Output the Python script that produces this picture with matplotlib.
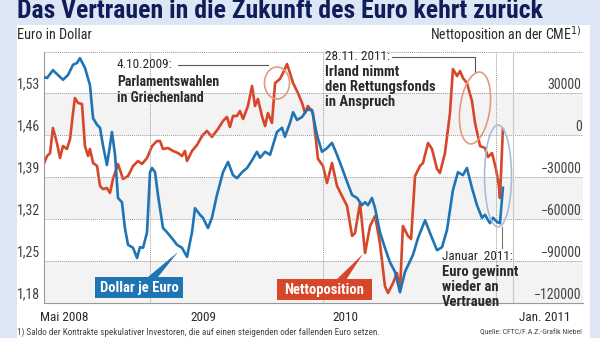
#! /usr/bin/env python3

"""
Euro in Dollar vs. Nettoposition an der CME (2008 - Jan. 2011)
Line chart with two y axes, annotations in the F.A.Z. style.
"""

import matplotlib
matplotlib.use("Agg")
import matplotlib.pyplot as plt
from matplotlib.patches import Ellipse, Polygon, Rectangle
from matplotlib.lines import Line2D

# narrow fonts first, if they are there
plt.rcParams['font.family'] = ['Roboto Condensed', 'Liberation Sans Narrow', 'Liberation Sans', 'DejaVu Sans']

# ---- data (dates as decimal years) ----

# Dollar je Euro
usd_dates = [2008.382, 2008.405, 2008.439, 2008.468, 2008.497, 2008.526, 2008.555, 2008.578,
             2008.595, 2008.624, 2008.653, 2008.671, 2008.694, 2008.711, 2008.728, 2008.751,
             2008.769, 2008.780, 2008.798, 2008.815, 2008.838, 2008.855, 2008.873, 2008.902,
             2008.925, 2008.942, 2008.960, 2008.983, 2009.000, 2009.012, 2009.029, 2009.046,
             2009.075, 2009.098, 2009.127, 2009.156, 2009.185, 2009.214, 2009.243, 2009.260,
             2009.289, 2009.306, 2009.335, 2009.358, 2009.387, 2009.422, 2009.451, 2009.480,
             2009.503, 2009.532, 2009.561, 2009.590, 2009.618, 2009.636, 2009.665, 2009.694,
             2009.711, 2009.734, 2009.763, 2009.780, 2009.809, 2009.827, 2009.850, 2009.879,
             2009.908, 2009.936, 2009.965, 2009.994, 2010.023, 2010.052, 2010.081, 2010.110,
             2010.139, 2010.168, 2010.197, 2010.225, 2010.243, 2010.260, 2010.283, 2010.301,
             2010.329, 2010.358, 2010.387, 2010.416, 2010.445, 2010.474, 2010.520, 2010.549,
             2010.590, 2010.618, 2010.659, 2010.688, 2010.717, 2010.751, 2010.780, 2010.809,
             2010.832, 2010.861, 2010.890, 2010.919, 2010.936, 2010.965, 2010.983, 2011.006,
             2011.023, 2011.040]
usd_values = [1.557, 1.555, 1.568, 1.560, 1.552, 1.560, 1.577, 1.580,
              1.588, 1.572, 1.543, 1.488, 1.477, 1.472, 1.443, 1.410,
              1.443, 1.465, 1.427, 1.355, 1.348, 1.305, 1.277, 1.272,
              1.255, 1.273, 1.272, 1.298, 1.398, 1.405, 1.398, 1.360,
              1.305, 1.298, 1.288, 1.277, 1.272, 1.257, 1.298, 1.338,
              1.327, 1.322, 1.305, 1.322, 1.360, 1.398, 1.415, 1.393,
              1.388, 1.398, 1.405, 1.418, 1.432, 1.422, 1.432, 1.427,
              1.443, 1.465, 1.472, 1.457, 1.480, 1.498, 1.485, 1.490,
              1.502, 1.502, 1.460, 1.432, 1.438, 1.447, 1.427, 1.405,
              1.382, 1.360, 1.355, 1.343, 1.348, 1.343, 1.355, 1.338,
              1.298, 1.272, 1.248, 1.232, 1.198, 1.232, 1.260, 1.288,
              1.318, 1.297, 1.268, 1.273, 1.302, 1.368, 1.398, 1.393,
              1.405, 1.372, 1.343, 1.322, 1.327, 1.313, 1.322, 1.315,
              1.313, 1.372]

# Nettoposition (contracts)
net_dates = [2008.382, 2008.405, 2008.422, 2008.439, 2008.462, 2008.480, 2008.497, 2008.520,
             2008.538, 2008.555, 2008.566, 2008.584, 2008.607, 2008.624, 2008.642, 2008.653,
             2008.671, 2008.694, 2008.711, 2008.728, 2008.751, 2008.769, 2008.786, 2008.815,
             2008.844, 2008.873, 2008.902, 2008.931, 2008.954, 2008.983, 2009.012, 2009.040,
             2009.058, 2009.075, 2009.104, 2009.133, 2009.162, 2009.185, 2009.202, 2009.214,
             2009.243, 2009.272, 2009.301, 2009.329, 2009.358, 2009.393, 2009.422, 2009.445,
             2009.462, 2009.480, 2009.503, 2009.520, 2009.538, 2009.566, 2009.590, 2009.607,
             2009.624, 2009.647, 2009.665, 2009.682, 2009.705, 2009.723, 2009.751, 2009.769,
             2009.792, 2009.809, 2009.827, 2009.855, 2009.879, 2009.896, 2009.913, 2009.942,
             2009.971, 2010.000, 2010.023, 2010.052, 2010.081, 2010.110, 2010.139, 2010.168,
             2010.185, 2010.214, 2010.243, 2010.272, 2010.301, 2010.329, 2010.358, 2010.376,
             2010.405, 2010.428, 2010.445, 2010.462, 2010.491, 2010.509, 2010.532, 2010.561,
             2010.578, 2010.607, 2010.630, 2010.659, 2010.676, 2010.705, 2010.734, 2010.751,
             2010.775, 2010.792, 2010.809, 2010.832, 2010.861, 2010.879, 2010.908, 2010.936,
             2010.954, 2010.977, 2011.000, 2011.017, 2011.023, 2011.040]
net_values = [-22000, -15000, -13000, 5000, -5700, -16400, -7900, -10000,
              -2900, 15700, 26400, 22900, 22100, -7900, -15000, -10000,
              -20000, -22100, -36400, -38600, -37900, -41400, -31400, -20700,
              -31400, -29300, -22100, -18600, -20700, -16400, -7900, -4300,
              -4300, -10000, -9300, -11400, -12900, -15000, -11400, -18600,
              -11400, -7100, -700, 2900, -1400, 4300, 10000, 12900,
              5700, 13600, 13600, 17100, 11400, 20700, 35000, 20700,
              25700, 13600, 6400, 15700, 8600, 37100, 40000, 44300,
              50700, 44300, 37100, 30000, 22900, 15700, 20700, 15700,
              -17100, -22100, -34300, -20000, -36400, -43600, -50700, -72100,
              -70000, -48600, -84300, -65000, -57900, -77100, -107900, -112900,
              -105700, -98600, -111400, -65000, -72100, -74300, -29300, -22100,
              -20000, -5700, -10000, -24300, -27100, -12900, 15700, 47100,
              42100, 45700, 40700, 37100, 24300, 8600, -7900, -9300,
              -15700, -12900, -24300, -36400, -45000, 4300]

# axis ticks
usd_ticks = [1.18, 1.25, 1.32, 1.39, 1.46, 1.53]
usd_tick_labels = ["1,18", "1,25", "1,32", "1,39", "1,46", "1,53"]
net_ticks = [-120000, -90000, -60000, -30000, 0, 30000]
net_tick_labels = ["\u2212120000", "\u221290000", "\u221260000", "\u221230000", "0", "30000"]
year_lines = [2009.0, 2010.0, 2011.0]
x_tick_pos = [2008.503, 2009.31, 2010.13, 2011.28]
x_tick_labels = ["Mai 2008", "2009", "2010", "Jan. 2011"]

# ---- colours ----
bg_blue = "#dde6f4"
line_blue = "#1f74b4"
line_red = "#d8462a"
navy = "#0f1d5a"
grid_col = "#9a9a9a"
text_col = "#2a2a2a"


def px(x, y):
    # pixel position in the 600x338 picture -> figure fraction
    return x / 600.0, 1.0 - y / 338.0


fig = plt.figure(figsize=(6, 3.38), dpi=100)
fig.patch.set_facecolor(bg_blue)
tf = fig.transFigure

# white panel behind the chart
fig.patches.append(Rectangle(px(17, 338), 573 / 600, 313 / 338, transform=tf,
                             facecolor="white", edgecolor="none", zorder=-1))

# title
fig.text(*px(17, 18), "Das Vertrauen in die Zukunft des Euro kehrt zurück", fontsize=18.5,
         fontweight="bold", color=navy, va="baseline", ha="left")

# axis headers
fig.text(*px(17, 35), "Euro in Dollar", fontsize=10.3, color=text_col, va="center")
fig.text(*px(582, 35), "Nettoposition an der CME$^{1)}$", fontsize=10, color=text_col,
         va="center", ha="right")

# main axes (Dollar je Euro) - drawn on top
ax = fig.add_axes([44 / 600, 35 / 338, 539 / 600, 251 / 338])
ax.set_xlim(2008.3873, 2011.5029)
ax.set_ylim(1.18, 1.5983)
ax.patch.set_alpha(0)

# second axes (Nettoposition) - drawn below, carries the bands
ax2 = ax.twinx()
ax2.set_ylim(-120000, 59271)
ax2.set_yticks([])
for side in ["top", "right", "left", "bottom"]:
    ax2.spines[side].set_visible(False)
ax2.set_zorder(1)
ax.set_zorder(2)

# light bands
for lo in [-120000, -60000, 0]:
    ax2.axhspan(lo, lo + 30000, color="#f3f3f3", zorder=0, lw=0)

# grid
for yv in usd_ticks[1:] + [1.5983]:
    ax.axhline(yv, color=grid_col, lw=0.7, ls=(0, (1, 1)), zorder=1)
for xv in year_lines:
    ax.axvline(xv, color=grid_col, lw=0.7, ls=(0, (1, 1)), zorder=1)
ax.axvline(2011.098, color="#c8c8c8", lw=0.8, zorder=1)

for side in ["top", "right"]:
    ax.spines[side].set_visible(False)
ax.spines["left"].set_color(grid_col)
ax.spines["left"].set_linewidth(0.8)
ax.spines["bottom"].set_color(grid_col)
ax.spines["bottom"].set_linewidth(0.8)

ax.set_yticks(usd_ticks)
ax.set_yticklabels([])
ax.tick_params(axis="y", length=0)
ax.set_xticks(x_tick_pos)
ax.set_xticklabels(x_tick_labels, fontsize=9.5, color=text_col)
ax.tick_params(axis="x", length=0, pad=6)

# left tick labels sit just above their grid line
for yv, lab in zip(usd_ticks, usd_tick_labels):
    ax.annotate(lab, xy=(0, yv), xycoords=("axes fraction", "data"), xytext=(-3, 1),
                textcoords="offset points", ha="right", va="bottom", fontsize=10, color="#444444")

# right tick labels inside the frame
for yv, lab in zip(net_ticks, net_tick_labels):
    ax2.annotate(lab, xy=(1, yv), xycoords=("axes fraction", "data"), xytext=(-1, 1),
                 textcoords="offset points", ha="right", va="bottom", fontsize=10, color="#444444")

# the two series
ax2.plot(net_dates, net_values, color=line_red, lw=1.9, zorder=3, solid_joinstyle="round")
ax.plot(usd_dates, usd_values, color=line_blue, lw=1.9, zorder=4, solid_joinstyle="round")

# ---- annotations (figure pixel positions) ----

# 4.10.2009
fig.text(*px(117, 64), "4.10.2009:", fontsize=9.5, color=text_col, va="center")
fig.text(*px(117, 90), "Parlamentswahlen\nin Griechenland", fontsize=10, fontweight="bold",
         color=text_col, va="center", linespacing=1.15)
fig.lines.append(Line2D([178 / 600, 268 / 600], [1 - 65 / 338, 1 - 65 / 338], transform=tf,
                        color="#555555", lw=0.8, zorder=5))
fig.patches.append(Ellipse(px(277, 83), 25 / 600, 32 / 338, transform=tf, fill=False,
                           edgecolor="#e39a80", lw=1.2, zorder=5))

# 28.11. (Irland)
fig.text(*px(325, 56), "28.11. 2011:", fontsize=9.5, color=text_col, va="center")
fig.text(*px(325, 87), "Irland nimmt\nden Rettungsfonds\nin Anspruch", fontsize=10.5,
         fontweight="bold", color=text_col, va="center", linespacing=1.1)
fig.lines.append(Line2D([392 / 600, 475 / 600, 475 / 600],
                        [1 - 57 / 338, 1 - 57 / 338, 1 - 72 / 338], transform=tf,
                        color="#555555", lw=0.8, zorder=5))
fig.patches.append(Ellipse(px(475, 108), 30 / 600, 72 / 338, angle=-4, transform=tf, fill=False,
                           edgecolor="#e39a80", lw=1.2, zorder=5))

# Januar 2011
fig.patches.append(Ellipse(px(498, 176), 27 / 600, 102 / 338, transform=tf, fill=False,
                           edgecolor="#a9bdd8", lw=1.2, zorder=5))
fig.lines.append(Line2D([502 / 600, 502 / 600], [1 - 227 / 338, 1 - 248 / 338], transform=tf,
                        color="#777777", lw=0.8, zorder=5))
fig.text(*px(442, 256), "Januar  2011:", fontsize=9.5, color=text_col, va="center")
fig.text(*px(442, 287), "Euro gewinnt\nwieder an\nVertrauen", fontsize=10.5,
         fontweight="bold", color=text_col, va="center", linespacing=1.1)

# label boxes with pointers
fig.patches.append(Polygon([px(148, 277), px(158, 277), px(178, 252)], closed=True,
                           transform=tf, facecolor=line_blue, edgecolor="none", zorder=6))
fig.patches.append(Rectangle(px(95, 298), 88 / 600, 21 / 338, transform=tf,
                             facecolor=line_blue, edgecolor="none", zorder=6))
fig.text(*px(139, 288), "Dollar je Euro", fontsize=10.5, fontweight="bold", color="white",
         ha="center", va="center", zorder=7)

fig.patches.append(Polygon([px(336, 280), px(346, 280), px(363, 254)], closed=True,
                           transform=tf, facecolor=line_red, edgecolor="none", zorder=6))
fig.patches.append(Rectangle(px(277, 300), 95 / 600, 21 / 338, transform=tf,
                             facecolor=line_red, edgecolor="none", zorder=6))
fig.text(*px(324.5, 290), "Nettoposition", fontsize=10.5, fontweight="bold", color="white",
         ha="center", va="center", zorder=7)

# footnote + source
fig.text(*px(17, 332), "1) Saldo der Kontrakte spekulativer Investoren, die auf einen steigenden "
         "oder fallenden Euro setzen.", fontsize=6.6, color="#444444", va="center")
fig.text(*px(582, 332), "Quelle: CFTC/F.A.Z.-Grafik Niebel", fontsize=5.6, color="#444444",
         va="center", ha="right")

fig.savefig("out.png", dpi=100, facecolor=fig.get_facecolor())
